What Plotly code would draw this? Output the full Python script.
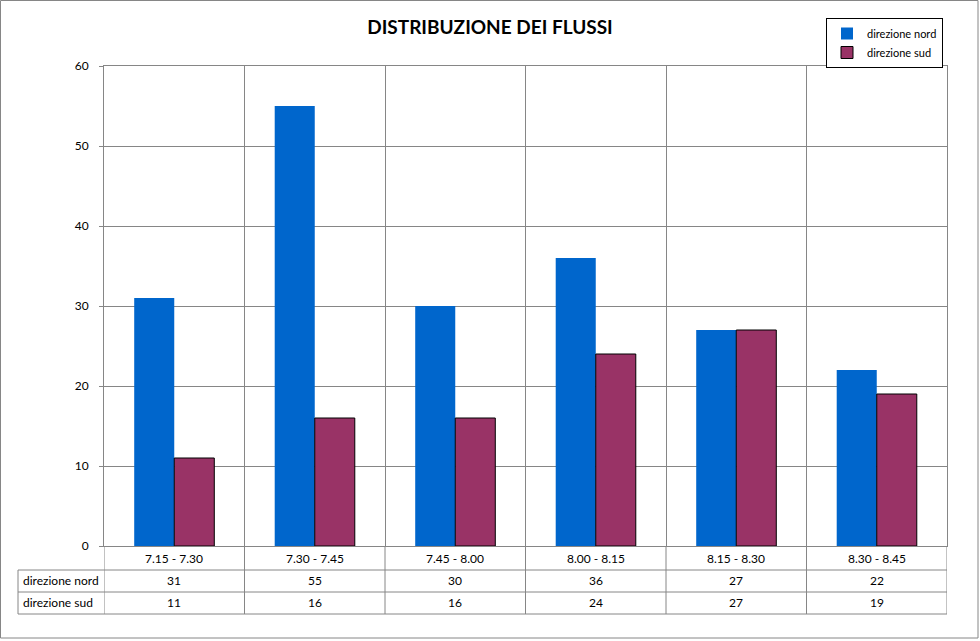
import plotly.graph_objects as go

categories = ["7.15 - 7.30", "7.30 - 7.45", "7.45 - 8.00", "8.00 - 8.15", "8.15 - 8.30", "8.30 - 8.45"]
nord = [31, 55, 30, 36, 27, 22]
sud = [11, 16, 16, 24, 27, 19]
series_names = ["direzione nord", "direzione sud"]

W, H = 980, 641
FONT = "Lato"
GRID = "#868686"

def py(pix):
    return 1 - pix / H

def px(pix):
    return pix / W

fig = go.Figure()
fig.add_trace(go.Bar(x=categories, y=nord, name=series_names[0],
                     marker=dict(color="#0066CC", line=dict(width=0))))
fig.add_trace(go.Bar(x=categories, y=sud, name=series_names[1],
                     marker=dict(color="#993366", line=dict(color="black", width=1))))

plot_top, plot_bot = 66, 546
row_y = [546, 570, 592, 614]

shapes = []
# outer chart border
shapes.append(dict(type="rect", xref="paper", yref="paper", x0=px(0.5), x1=px(978), y0=py(638), y1=py(0.5),
                   line=dict(color=GRID, width=1)))
n = len(categories)
for i in range(n + 1):
    shapes.append(dict(type="line", xref="x", yref="paper", x0=i - 0.5, x1=i - 0.5,
                       y0=py(row_y[0]), y1=py(row_y[3]), line=dict(color=GRID, width=1)))
for r in row_y[1:]:
    shapes.append(dict(type="line", xref="x", yref="paper", x0=-0.5, x1=n - 0.5,
                       y0=py(r), y1=py(r), line=dict(color=GRID, width=1)))
    shapes.append(dict(type="line", xref="paper", yref="paper", x0=px(18), x1=px(104),
                       y0=py(r), y1=py(r), line=dict(color=GRID, width=1)))
shapes.append(dict(type="line", xref="paper", yref="paper", x0=px(18), x1=px(18),
                   y0=py(row_y[1]), y1=py(row_y[3]), line=dict(color=GRID, width=1)))

TF = dict(family=FONT, size=12, color="black")
ann = []
for i, c in enumerate(categories):
    ann.append(dict(x=c, xref="x", y=py(558), yref="paper", yanchor="middle", xanchor="center",
                    text=c, showarrow=False, font=TF))
    ann.append(dict(x=c, xref="x", y=py(580), yref="paper", yanchor="middle", xanchor="center",
                    text=str(nord[i]), showarrow=False, font=TF))
    ann.append(dict(x=c, xref="x", y=py(602), yref="paper", yanchor="middle", xanchor="center",
                    text=str(sud[i]), showarrow=False, font=TF))
for k, name in enumerate(series_names):
    ann.append(dict(x=px(21), xref="paper", xanchor="left", y=py(580 + 22 * k), yref="paper",
                    yanchor="middle", text=name, showarrow=False, font=TF))

fig.update_layout(
    width=W, height=H,
    margin=dict(l=0, r=0, t=0, b=0, autoexpand=False),
    paper_bgcolor="white", plot_bgcolor="white",
    title=dict(text="<b>DISTRIBUZIONE DEI FLUSSI</b>", x=0.5, xanchor="center",
               y=py(27), yanchor="middle", font=dict(family=FONT, size=19, color="black")),
    barmode="group", bargap=0.43, bargroupgap=0,
    xaxis=dict(domain=[px(104), px(947)], tickson="boundaries", showgrid=True,
               gridcolor=GRID, gridwidth=1, showticklabels=False, ticks="",
               showline=True, linecolor=GRID, mirror=True, range=[-0.5, n - 0.5]),
    yaxis=dict(domain=[py(plot_bot), py(plot_top)], range=[0, 60], dtick=10,
               showgrid=True, gridcolor=GRID, gridwidth=1, zeroline=False,
               showline=True, linecolor=GRID, mirror=True,
               ticks="outside", ticklen=4, tickcolor=GRID, ticklabelstandoff=8,
               tickfont=dict(family=FONT, size=12, color="black")),
    legend=dict(x=px(943), y=py(18), xanchor="right", yanchor="top",
                bordercolor="black", borderwidth=1, bgcolor="white",
                font=dict(family=FONT, size=11, color="black"),
                tracegroupgap=0, itemwidth=30),
    shapes=shapes, annotations=ann, showlegend=True,
)

fig.write_html("out.html")
